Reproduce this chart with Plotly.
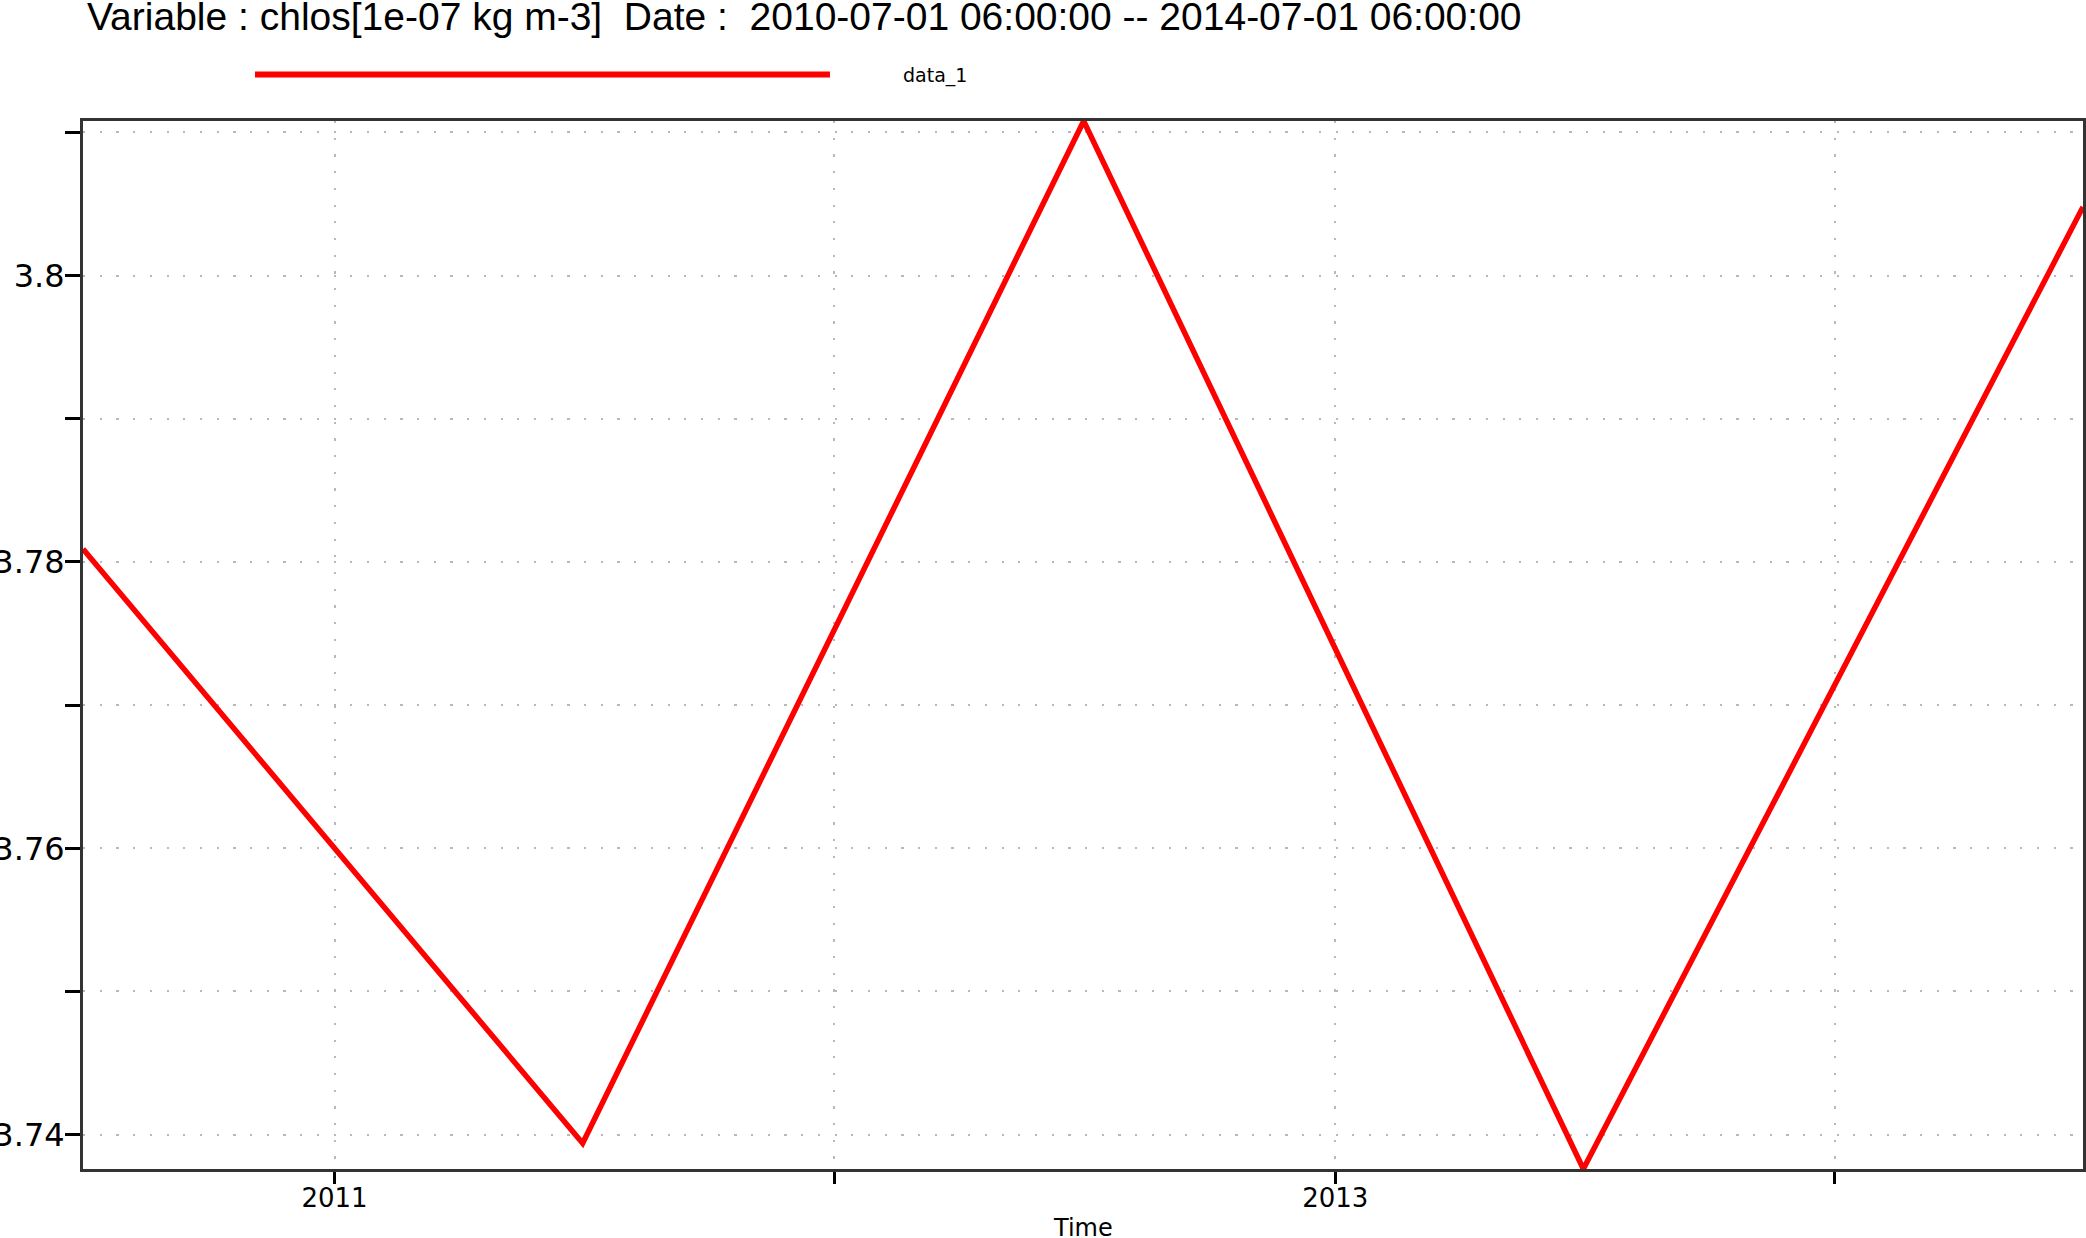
import plotly.graph_objects as go

# ---- data ----
dates = ["2010-07-01 06:00:00", "2011-07-01 06:00:00", "2012-07-01 06:00:00",
         "2013-07-01 06:00:00", "2014-07-01 06:00:00"]
values = [3.7809, 3.7394, 3.8108, 3.7376, 3.8048]
series_name = "data_1"
y_tick_vals = [3.74, 3.76, 3.78, 3.8]
y_tick_text = ["3.74", "3.76", "3.78", "3.8"]
y_minor_vals = [3.75, 3.77, 3.79, 3.81]
x_tick_vals = ["2011-01-01", "2013-01-01"]
x_tick_text = ["2011", "2013"]
x_minor_vals = ["2012-01-01", "2014-01-01"]
title_text = ("Variable : chlos[1e-07 kg m-3]\u00a0\u00a0Date :\u00a0\u00a0"
              "2010-07-01 06:00:00 -- 2014-07-01 06:00:00")

W, H = 2086, 1238
L, R, T, B = 83, 3, 121, 69
pw, ph = W - L - R, H - T - B

def px_x(p):
    return (p - L) / pw

def px_y(p):
    return (H - B - p) / ph

fig = go.Figure()
fig.add_trace(go.Scatter(x=dates, y=values, mode="lines", name=series_name,
                         line=dict(color="#ff0000", width=5.5), showlegend=False))

grid = dict(showgrid=True, gridcolor="#b8b8b8", gridwidth=2.2, griddash="2.2px,14.5px")

fig.update_layout(
    width=W, height=H,
    margin=dict(l=L, r=R, t=T, b=B, pad=0, autoexpand=False),
    paper_bgcolor="white", plot_bgcolor="white",
    font=dict(family="DejaVu Sans", color="black"),
    xaxis=dict(type="date", range=[dates[0], dates[-1]], automargin=False,
               tickmode="array", tickvals=x_tick_vals, ticktext=x_tick_text,
               ticks="outside", ticklen=12, tickwidth=3, tickcolor="black",
               tickfont=dict(size=26, family="DejaVu Sans"), ticklabelstandoff=-8,
               showline=True, linecolor="#333333", linewidth=3, mirror=True,
               zeroline=False,
               minor=dict(tickmode="array", tickvals=x_minor_vals, ticks="outside",
                          ticklen=12, tickwidth=3, tickcolor="black", **grid),
               **grid),
    yaxis=dict(range=[min(values), max(values)], automargin=False,
               tickmode="array", tickvals=y_tick_vals, ticktext=y_tick_text,
               ticks="outside", ticklen=15, tickwidth=3, tickcolor="black",
               tickfont=dict(size=32, family="DejaVu Sans"), ticklabelstandoff=-6,
               showline=True, linecolor="#333333", linewidth=3, mirror=True,
               zeroline=False,
               minor=dict(tickmode="array", tickvals=y_minor_vals, ticks="outside",
                          ticklen=15, tickwidth=3, tickcolor="black", **grid),
               **grid),
)

# chart title
fig.add_annotation(text=title_text, xref="paper", yref="paper",
                   x=px_x(85), y=px_y(16), xanchor="left", yanchor="middle",
                   showarrow=False,
                   font=dict(family="Liberation Sans", size=39, color="black"))

# x axis title placed as annotation
fig.add_annotation(text="Time", xref="paper", yref="paper", x=0.5, y=px_y(1228),
                   xanchor="center", yanchor="middle", showarrow=False,
                   font=dict(family="DejaVu Sans", size=24, color="black"))

# legend key drawn as layout decoration
fig.add_shape(type="line", xref="paper", yref="paper",
              x0=px_x(255), x1=px_x(830), y0=px_y(74.5), y1=px_y(74.5),
              line=dict(color="#ff0000", width=6))
fig.add_annotation(text=series_name, xref="paper", yref="paper",
                   x=px_x(901), y=px_y(75), xanchor="left", yanchor="middle",
                   showarrow=False, font=dict(family="DejaVu Sans", size=19, color="black"))

fig.write_html("out.html", config={"displayModeBar": False},
               post_script="document.body.style.margin='0';")
